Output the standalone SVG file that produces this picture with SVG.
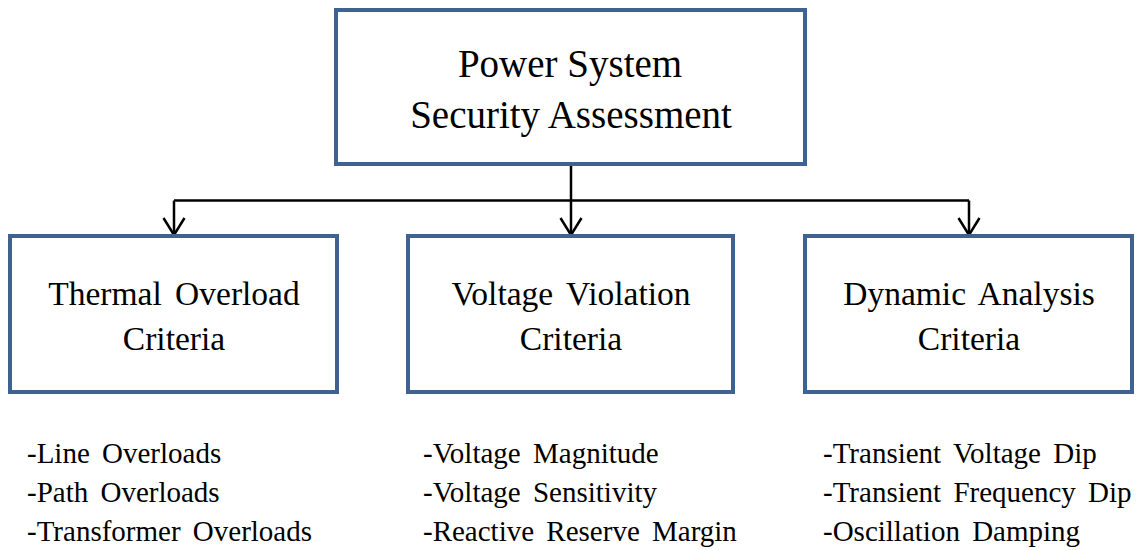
<svg xmlns="http://www.w3.org/2000/svg" width="1138" height="550" viewBox="0 0 1138 550">
  <defs>
    <style>
      .box { fill: #ffffff; stroke: #3f6290; stroke-width: 4; }
      .title { font-family: "Liberation Serif", "Times New Roman", serif; font-size: 39px; fill: #000; text-anchor: middle; }
      .label { font-family: "Liberation Serif", "Times New Roman", serif; font-size: 33.5px; fill: #000; text-anchor: middle; word-spacing: 5px; }
      .item { font-family: "Liberation Serif", "Times New Roman", serif; font-size: 29px; fill: #000; word-spacing: 5px; }
      .wire { fill: none; stroke: #000; stroke-width: 2.5; }
    </style>
    <!-- open chevron arrowhead, drawn along +x so orient="auto" points it down the line -->
    <marker id="chevron" viewBox="0 0 20 24" refX="18" refY="12" markerWidth="20" markerHeight="24" markerUnits="userSpaceOnUse" orient="auto">
      <path d="M1,1.5 L18,12 L1,22.5" fill="none" stroke="#000" stroke-width="2.5"/>
    </marker>
  </defs>

  <rect width="1138" height="550" fill="#ffffff"/>

  <!-- connectors from the top box to the three criteria boxes -->
  <g id="connectors">
    <path class="wire" d="M571,164 V200.5"/>
    <path class="wire" d="M174,200.5 H969"/>
    <path class="wire" d="M174,200.5 V235" marker-end="url(#chevron)"/>
    <path class="wire" d="M571,200.5 V235" marker-end="url(#chevron)"/>
    <path class="wire" d="M969,200.5 V235" marker-end="url(#chevron)"/>
  </g>

  <g id="assessment">
    <rect class="box" x="336" y="10" width="469" height="154"/>
    <text class="title" x="570" y="77">Power System</text>
    <text class="title" x="571" y="128">Security Assessment</text>
  </g>

  <g id="thermal">
    <rect class="box" x="10" y="236" width="327" height="156"/>
    <text class="label" x="174" y="305">Thermal Overload</text>
    <text class="label" x="174" y="350">Criteria</text>
  </g>

  <g id="voltage">
    <rect class="box" x="408" y="236" width="325" height="156"/>
    <text class="label" x="571" y="305">Voltage Violation</text>
    <text class="label" x="571" y="350">Criteria</text>
  </g>

  <g id="dynamic">
    <rect class="box" x="805" y="236" width="327" height="156"/>
    <text class="label" x="969" y="305">Dynamic Analysis</text>
    <text class="label" x="969" y="350">Criteria</text>
  </g>

  <g id="thermal-items">
    <text class="item" x="27" y="463">-Line Overloads</text>
    <text class="item" x="27" y="502">-Path Overloads</text>
    <text class="item" x="27" y="541">-Transformer Overloads</text>
  </g>

  <g id="voltage-items">
    <text class="item" x="423" y="463">-Voltage Magnitude</text>
    <text class="item" x="423" y="502">-Voltage Sensitivity</text>
    <text class="item" x="423" y="541">-Reactive Reserve Margin</text>
  </g>

  <g id="dynamic-items">
    <text class="item" x="823" y="463">-Transient Voltage Dip</text>
    <text class="item" x="823" y="502">-Transient Frequency Dip</text>
    <text class="item" x="823" y="541">-Oscillation Damping</text>
  </g>
</svg>
